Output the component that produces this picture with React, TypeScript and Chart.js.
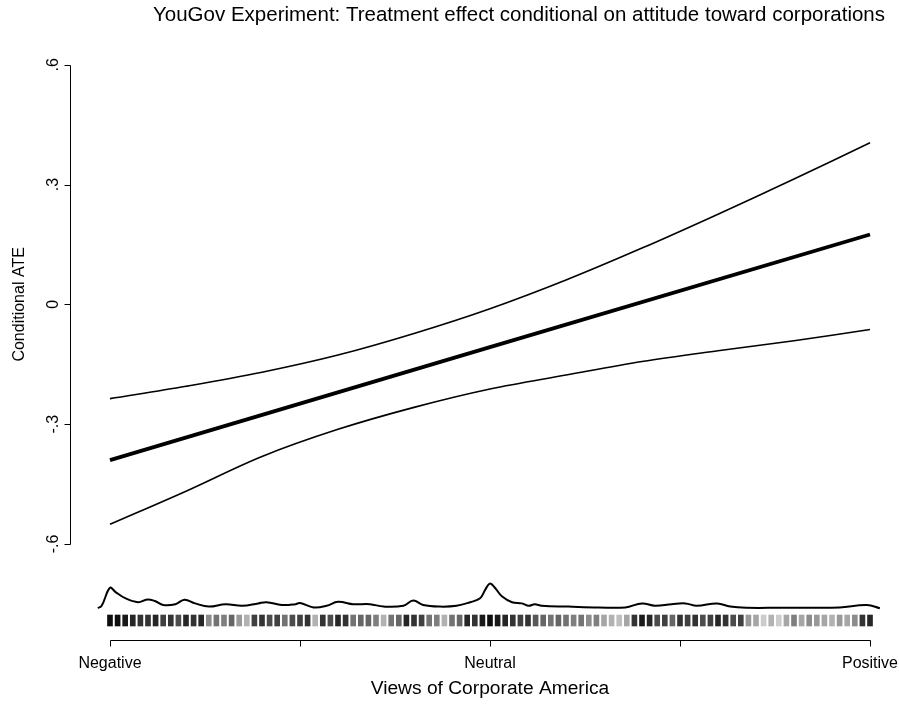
import React, { useEffect, useRef } from "react";
import { Chart, registerables } from "chart.js";

Chart.register(...registerables);

// ---------- data ----------
const titleText = "YouGov Experiment: Treatment effect conditional on attitude toward corporations";
const xTitle = "Views of Corporate America";
const yTitle = "Conditional ATE";

const xTickValues = [0, 25, 50, 75, 100];
const xTickLabels = ["Negative", "", "Neutral", "", "Positive"];
const yTickValues = [-0.6, -0.3, 0, 0.3, 0.6];
const yTickLabels = ["-.6", "-.3", "0", ".3", ".6"];

// conditional ATE and its confidence band
const ciX = [0, 10, 20, 30, 40, 50, 60, 70, 80, 90, 100];
const upperCI = [-0.236, -0.205, -0.17, -0.127, -0.073, -0.011, 0.061, 0.141, 0.226, 0.314, 0.405];
const lowerCI = [-0.551, -0.468, -0.381, -0.313, -0.258, -0.212, -0.177, -0.143, -0.116, -0.091, -0.063];
const estimateX = [0, 50, 100];
const estimate = [-0.39, -0.107, 0.175];

// density of the moderator (drawn along the bottom)
const densityX = [-1.6, -1.1, 0, 0.7, 2, 3.7, 4.9, 5.9, 7, 8.6, 9.8, 11.2, 13, 15.2, 17.4, 19.5, 20.6, 22.6, 24.4, 25, 26.8, 28.5, 30, 32, 34.2, 36, 38.6, 39.9, 41.2, 43.4, 45.6, 47.4, 48.7, 49.4, 50, 50.7, 51.6, 52.9, 54.2, 55.1, 55.9, 56.8, 60.3, 64.3, 67.8, 70, 71.7, 73.9, 75.7, 77.2, 79.9, 81.6, 83.8, 88.2, 92.6, 96, 99.6, 101.3];
const densityY = [-0.761, -0.755, -0.71, -0.72, -0.736, -0.746, -0.739, -0.743, -0.753, -0.751, -0.74, -0.749, -0.757, -0.751, -0.755, -0.749, -0.746, -0.753, -0.751, -0.748, -0.759, -0.755, -0.745, -0.751, -0.751, -0.757, -0.755, -0.742, -0.753, -0.757, -0.755, -0.746, -0.736, -0.714, -0.699, -0.711, -0.732, -0.746, -0.749, -0.755, -0.751, -0.755, -0.757, -0.759, -0.759, -0.749, -0.755, -0.751, -0.749, -0.755, -0.749, -0.757, -0.76, -0.76, -0.76, -0.759, -0.753, -0.761];

// rug of observed moderator values (position and shade)
const rugX = [0, 1, 2, 3, 4, 5, 6, 7, 8, 9, 10, 11, 12, 13, 14, 15, 16, 17, 18, 19, 20, 21, 22, 23, 24, 25, 26, 27, 28, 29, 30, 31, 32, 33, 34, 35, 36, 37, 38, 39, 40, 41, 42, 43, 44, 45, 46, 47, 48, 49, 50, 51, 52, 53, 54, 55, 56, 57, 58, 59, 60, 61, 62, 63, 64, 65, 66, 67, 68, 69, 70, 71, 72, 73, 74, 75, 76, 77, 78, 79, 80, 81, 82, 83, 84, 85, 86, 87, 88, 89, 90, 91, 92, 93, 94, 95, 96, 97, 98, 99, 100];
const rugShade = [0.95, 0.95, 0.9, 0.85, 0.8, 0.8, 0.85, 0.75, 0.8, 0.7, 0.85, 0.8, 0.85, 0.45, 0.55, 0.5, 0.6, 0.4, 0.3, 0.75, 0.8, 0.7, 0.75, 0.55, 0.7, 0.75, 0.8, 0.3, 0.8, 0.7, 0.85, 0.8, 0.55, 0.6, 0.6, 0.5, 0.3, 0.55, 0.6, 0.85, 0.8, 0.75, 0.55, 0.5, 0.3, 0.55, 0.6, 0.85, 0.8, 0.9, 0.95, 0.9, 0.85, 0.8, 0.75, 0.8, 0.65, 0.6, 0.55, 0.6, 0.55, 0.5, 0.55, 0.45, 0.5, 0.35, 0.3, 0.25, 0.35, 0.8, 0.9, 0.85, 0.7, 0.75, 0.6, 0.8, 0.75, 0.8, 0.7, 0.75, 0.85, 0.8, 0.7, 0.75, 0.4, 0.35, 0.2, 0.3, 0.2, 0.35, 0.5, 0.35, 0.45, 0.4, 0.35, 0.3, 0.4, 0.35, 0.45, 0.8, 0.85];
const rugBand = [-0.8056, -0.7781];

// ---------- drawing helpers ----------
const FONT = '"Liberation Sans", Arial, Helvetica, sans-serif';

const rAxesPlugin = {
  id: "rAxes",
  afterDraw(chart: any) {
    const { ctx, chartArea } = chart;
    const xs = chart.scales.x;
    const ys = chart.scales.y;
    ctx.save();
    ctx.strokeStyle = "#000";
    ctx.fillStyle = "#000";
    ctx.lineWidth = 1;

    // x axis
    const ay = chartArea.bottom + 0.5;
    const x0 = xs.getPixelForValue(xTickValues[0]);
    const x1 = xs.getPixelForValue(xTickValues[xTickValues.length - 1]);
    ctx.beginPath();
    ctx.moveTo(Math.round(x0) + 0.5, ay);
    ctx.lineTo(Math.round(x1) + 0.5, ay);
    xTickValues.forEach((v) => {
      const px = Math.round(xs.getPixelForValue(v)) + 0.5;
      ctx.moveTo(px, ay);
      ctx.lineTo(px, ay + 6);
    });
    ctx.stroke();
    ctx.font = `16px ${FONT}`;
    ctx.textAlign = "center";
    ctx.textBaseline = "alphabetic";
    xTickValues.forEach((v, i) => {
      if (xTickLabels[i]) ctx.fillText(xTickLabels[i], xs.getPixelForValue(v), ay + 27);
    });
    ctx.font = `19.2px ${FONT}`;
    ctx.fillText(xTitle, xs.getPixelForValue(50), ay + 53);

    // y axis
    const ax = chartArea.left - 0.5;
    const y0 = ys.getPixelForValue(yTickValues[0]);
    const y1 = ys.getPixelForValue(yTickValues[yTickValues.length - 1]);
    ctx.beginPath();
    ctx.moveTo(ax, Math.round(y0) + 0.5);
    ctx.lineTo(ax, Math.round(y1) + 0.5);
    yTickValues.forEach((v) => {
      const py = Math.round(ys.getPixelForValue(v)) + 0.5;
      ctx.moveTo(ax, py);
      ctx.lineTo(ax - 6, py);
    });
    ctx.stroke();
    ctx.font = `16px ${FONT}`;
    yTickValues.forEach((v, i) => {
      ctx.save();
      ctx.translate(ax - 13, ys.getPixelForValue(v));
      ctx.rotate(-Math.PI / 2);
      ctx.textAlign = "center";
      ctx.textBaseline = "alphabetic";
      ctx.fillText(yTickLabels[i], 0, 0);
      ctx.restore();
    });
    ctx.save();
    ctx.font = `16px ${FONT}`;
    ctx.translate(24, ys.getPixelForValue(0));
    ctx.rotate(-Math.PI / 2);
    ctx.textAlign = "center";
    ctx.textBaseline = "alphabetic";
    ctx.fillText(yTitle, 0, 0);
    ctx.restore();

    // title
    ctx.font = `20.5px ${FONT}`;
    ctx.textAlign = "center";
    ctx.textBaseline = "alphabetic";
    ctx.fillText(titleText, 519, 21);
    ctx.restore();
  },
};

export default function App() {
  const ref = useRef<HTMLCanvasElement | null>(null);

  useEffect(() => {
    if (!ref.current) return;
    const chart = new Chart(ref.current, {
      type: "line",
      data: {
        datasets: [
          {
            type: "line",
            label: "Upper",
            data: ciX.map((x, i) => ({ x, y: upperCI[i] })),
            borderColor: "#000",
            borderWidth: 1.6,
            pointRadius: 0,
            tension: 0.35,
            fill: false,
          },
          {
            type: "line",
            label: "Lower",
            data: ciX.map((x, i) => ({ x, y: lowerCI[i] })),
            borderColor: "#000",
            borderWidth: 1.6,
            pointRadius: 0,
            tension: 0.35,
            fill: false,
          },
          {
            type: "line",
            label: "Estimate",
            data: estimateX.map((x, i) => ({ x, y: estimate[i] })),
            borderColor: "#000",
            borderWidth: 3.8,
            pointRadius: 0,
            tension: 0,
            fill: false,
          },
          {
            type: "line",
            label: "Density",
            data: densityX.map((x, i) => ({ x, y: densityY[i] })),
            borderColor: "#000",
            borderWidth: 2,
            pointRadius: 0,
            tension: 0.4,
            fill: false,
          },
          {
            type: "bar",
            label: "Rug",
            data: rugX.map((x) => ({ x, y: rugBand })),
            backgroundColor: rugShade.map((a) => `rgba(0,0,0,${a})`),
            borderWidth: 0,
            barThickness: 5,
          } as any,
        ],
      },
      options: {
        responsive: false,
        animation: false,
        devicePixelRatio: 1,
        layout: { padding: { left: 71, right: 9, top: 40, bottom: 64 } },
        plugins: { legend: { display: false }, title: { display: false }, tooltip: { enabled: false } },
        scales: {
          x: { type: "linear", display: false, min: -5.13, max: 102.63, offset: false },
          y: { type: "linear", display: false, min: -0.8407, max: 0.6623 },
        },
      },
      plugins: [rAxesPlugin],
    });
    return () => chart.destroy();
  }, []);

  return (
    <div style={{ position: "absolute", left: 0, top: 0, width: 899, height: 704, background: "#fff" }}>
      <canvas ref={ref} width={899} height={704} style={{ display: "block" }} />
    </div>
  );
}
